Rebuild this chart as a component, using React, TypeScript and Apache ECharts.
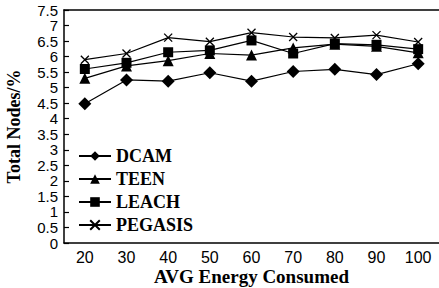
import React, { useEffect, useRef } from "react";
import * as echarts from "echarts";

const categories = ["20", "30", "40", "50", "60", "70", "80", "90", "100"];
const dcam = [4.48, 5.25, 5.21, 5.48, 5.21, 5.52, 5.59, 5.42, 5.77];
const teen = [5.3, 5.7, 5.87, 6.1, 6.05, 6.28, 6.4, 6.33, 6.12];
const leach = [5.6, 5.8, 6.14, 6.2, 6.52, 6.1, 6.42, 6.38, 6.24];
const pegasis = [5.9, 6.1, 6.61, 6.48, 6.77, 6.63, 6.6, 6.69, 6.47];

const serif = "'Liberation Serif', 'Times New Roman', serif";
const sans = "'Liberation Sans', Arial, sans-serif";

export default function App() {
  const ref = useRef<HTMLDivElement>(null);
  useEffect(() => {
    const chart = echarts.init(ref.current!, null, { renderer: "svg" });
    const mk = (name: string, data: number[], symbol: string, size: number) => ({
      name,
      type: "line",
      data,
      symbol,
      symbolSize: size,
      lineStyle: { color: "#000", width: 1.2 },
      itemStyle:
        symbol.startsWith("path://")
          ? { color: "rgba(0,0,0,0)", borderColor: "#000", borderWidth: 1.3 }
          : { color: "#000" },
      z: 3,
    });
    chart.setOption({
      animation: false,
      grid: { left: 64, top: 10, right: 0, bottom: 45, outerBoundsMode: "none", containLabel: false },
      legend: {
        orient: "vertical",
        left: 78,
        top: 147,
        padding: 0,
        itemWidth: 32,
        itemHeight: 12,
        itemGap: 5,
        textStyle: { fontFamily: serif, fontWeight: "bold", fontSize: 18, color: "#000" },
        data: ["DCAM", "TEEN", "LEACH", "PEGASIS"],
      },
      xAxis: [
        {
          type: "category",
          data: categories,
          boundaryGap: true,
          name: "AVG Energy Consumed",
          nameLocation: "middle",
          nameGap: 24,
          nameMoveOverlap: false,
          nameTextStyle: { fontFamily: serif, fontWeight: "bold", fontSize: 19, color: "#000", lineHeight: 19 },
          axisLine: { lineStyle: { color: "#000", width: 1.5 } },
          axisTick: { inside: true, length: 6, lineStyle: { color: "#000", width: 1.2 } },
          axisLabel: { fontFamily: sans, fontSize: 16, color: "#000", margin: 6 },
        },
        {
          type: "category",
          data: categories,
          position: "top",
          axisLine: { lineStyle: { color: "#000", width: 1.5 } },
          axisTick: { show: false },
          axisLabel: { show: false },
        },
      ],
      yAxis: {
        type: "value",
        min: 0,
        max: 7.5,
        interval: 0.5,
        name: "Total Nodes/%",
        nameLocation: "middle",
        nameGap: 41,
        nameMoveOverlap: false,
        nameTextStyle: { fontFamily: serif, fontWeight: "bold", fontSize: 18, color: "#000" },
        splitLine: { show: false },
        axisLine: { show: true, lineStyle: { color: "#000", width: 1.5 } },
        axisTick: { show: true, inside: true, length: 5, lineStyle: { color: "#000", width: 1.2 } },
        axisLabel: {
          fontFamily: sans,
          fontSize: 15,
          color: "#000",
          margin: 6,
          showMinLabel: true,
          showMaxLabel: true,
          hideOverlap: false,
        },
      },
      series: [
        mk("DCAM", dcam, "diamond", 13),
        mk("TEEN", teen, "triangle", 11),
        mk("LEACH", leach, "rect", 10),
        mk("PEGASIS", pegasis, "path://M0,0L10,10M10,0L0,10", 8),
      ],
    });
    return () => chart.dispose();
  }, []);
  return <div ref={ref} style={{ width: 439, height: 288, position: "absolute", left: 0, top: 0 }} />;
}
